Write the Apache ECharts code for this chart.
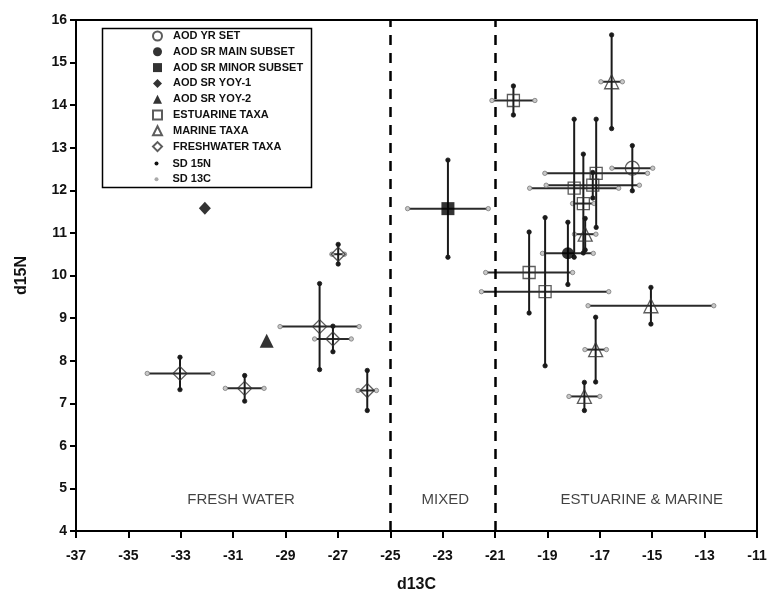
<!DOCTYPE html>
<html>
<head>
<meta charset="utf-8">
<script src="https://cdn.jsdelivr.net/npm/echarts/dist/echarts.min.js"></script>
<style>
  html, body { margin: 0; padding: 0; background: #fff; }
  #chart { width: 780px; height: 595px; }
</style>
</head>
<body>
<div id="chart"></div>
<script>
// each row: [d13C, d15N, SD 13C, SD 15N]
var aodYrSet = [[-15.76, 12.52, 0.78, 0.53]];
var aodSrMain = [[-18.22, 10.52, 0.97, 0.73]];
var aodSrMinor = [[-22.80, 11.57, 1.54, 1.14]];
var aodSrYoy1 = [[-32.08, 11.58]];
var aodSrYoy2 = [[-29.72, 8.47]];
var estuarine = [
    [-20.30, 14.11, 0.82, 0.34],
    [-17.14, 12.40, 1.96, 1.27],
    [-17.98, 12.05, 1.70, 1.62],
    [-17.27, 12.12, 1.78, 0.30],
    [-17.63, 11.69, 0.41, 1.16],
    [-19.70, 10.07, 1.66, 0.95],
    [-19.09, 9.62, 2.43, 1.74]
];
var marine = [
    [-16.55, 14.55, 0.41, 1.10],
    [-17.56, 10.97, 0.41, 0.37],
    [-15.05, 9.29, 2.40, 0.43],
    [-17.16, 8.26, 0.41, 0.76],
    [-17.59, 7.16, 0.59, 0.33]
];
var freshwater = [
    [-33.03, 7.70, 1.25, 0.38],
    [-30.56, 7.35, 0.74, 0.30],
    [-27.70, 8.80, 1.51, 1.01],
    [-27.19, 8.51, 0.70, 0.30],
    [-26.99, 10.50, 0.24, 0.23],
    [-25.88, 7.30, 0.35, 0.47]
];
var zoneBounds = [-25, -21];
var zoneNames = ["FRESH WATER", "MIXED", "ESTUARINE & MARINE"];
var zoneX = [-30.7, -22.9, -15.4];
var zoneY = 4.72;

var font = "Liberation Sans, Arial, Helvetica, sans-serif";
var errorRows = [].concat(aodYrSet, aodSrMain, aodSrMinor, estuarine, marine, freshwater);

function dot(p, fill, stroke) {
    return { type: "circle", shape: { cx: p[0], cy: p[1], r: 2.2 },
        style: { fill: fill, stroke: stroke, lineWidth: 0.8 } };
}

function sd15N(params, api) {
    var x = api.value(0), y = api.value(1), s = api.value(3);
    var a = api.coord([x, y + s]), b = api.coord([x, y - s]);
    return { type: "group", children: [
        { type: "line", shape: { x1: a[0], y1: a[1], x2: b[0], y2: b[1] },
          style: { stroke: "#1a1a1a", lineWidth: 2 } },
        dot(a, "#1a1a1a", "#1a1a1a"), dot(b, "#1a1a1a", "#1a1a1a")
    ] };
}

function sd13C(params, api) {
    var x = api.value(0), y = api.value(1), s = api.value(2);
    var a = api.coord([x - s, y]), b = api.coord([x + s, y]);
    return { type: "group", children: [
        { type: "line", shape: { x1: a[0], y1: a[1], x2: b[0], y2: b[1] },
          style: { stroke: "#2a2a2a", lineWidth: 2 } },
        dot(a, "#c8c8c8", "#7a7a7a"), dot(b, "#c8c8c8", "#7a7a7a")
    ] };
}

var openStyle = { color: "rgba(255,255,255,0)", borderColor: "#333", borderWidth: 1.3 };
var fillStyle = { color: "#000" };

function points(name, data, symbol, size, style) {
    return { name: name, type: "scatter", data: data, symbol: symbol, symbolSize: size,
        itemStyle: style, z: 4, encode: { x: 0, y: 1 } };
}

var legendText = { fontSize: 11, fontWeight: "bold", color: "#111", lineHeight: 12, fontFamily: font };

var chart = echarts.init(document.getElementById("chart"));
chart.setOption({
    animation: false,
    backgroundColor: "#fff",
    textStyle: { fontFamily: font },
    grid: { left: 76, right: 23, top: 20, bottom: 64, show: true, borderColor: "#000", borderWidth: 2,
            containLabel: false, outerBoundsMode: "none" },
    xAxis: {
        type: "value", min: -37, max: -11, interval: 2,
        name: "d13C", nameLocation: "middle", nameGap: 46,
        nameTextStyle: { fontSize: 16, fontWeight: "bold", color: "#111", fontFamily: font },
        axisLine: { lineStyle: { color: "#000", width: 2 } },
        axisTick: { length: 7, lineStyle: { color: "#000", width: 2 } },
        axisLabel: { margin: 18, fontSize: 14, fontWeight: "bold", color: "#111", fontFamily: font },
        splitLine: { show: false }
    },
    yAxis: {
        type: "value", min: 4, max: 16, interval: 1,
        name: "d15N", nameLocation: "middle", nameGap: 46,
        nameTextStyle: { fontSize: 16, fontWeight: "bold", color: "#111", fontFamily: font },
        axisLine: { lineStyle: { color: "#000", width: 2 } },
        axisTick: { length: 6, lineStyle: { color: "#000", width: 2 } },
        axisLabel: { margin: 9, fontSize: 14, fontWeight: "bold", color: "#111", fontFamily: font },
        splitLine: { show: false }
    },
    legend: [{
        orient: "vertical", left: 152, top: 30, padding: 0,
        itemWidth: 9, itemHeight: 9, itemGap: 3.8,
        textStyle: Object.assign({ padding: [0, 0, 0, 6] }, legendText),
        data: ["AOD YR SET", "AOD SR MAIN SUBSET", "AOD SR MINOR SUBSET", "AOD SR YOY-1",
               "AOD SR YOY-2", "ESTUARINE TAXA", "MARINE TAXA", "FRESHWATER TAXA"]
    }, {
        orient: "vertical", left: 154.5, top: 157.5, padding: 0,
        itemWidth: 4, itemHeight: 4, itemGap: 3.8,
        textStyle: Object.assign({ padding: [0, 0, 0, 9] }, legendText),
        data: [
            { name: "SD 15N", icon: "circle", itemStyle: { color: "#111" } },
            { name: "SD 13C", icon: "circle", itemStyle: { color: "#aaa" } }
        ]
    }],
    graphic: [{
        type: "rect", left: 100, top: 26, z: 10, silent: true,
        shape: { width: 209, height: 159 },
        style: { fill: "none", stroke: "#000", lineWidth: 1.5 }
    }],
    series: [
        { name: "SD 13C", type: "custom", renderItem: sd13C, data: errorRows, z: 2,
          encode: { x: 0, y: 1 }, itemStyle: { color: "#aaa" } },
        { name: "SD 15N", type: "custom", renderItem: sd15N, data: errorRows, z: 3,
          encode: { x: 0, y: 1 }, itemStyle: { color: "#111" } },
        points("AOD YR SET", aodYrSet, "circle", 14, openStyle),
        points("AOD SR MAIN SUBSET", aodSrMain, "circle", 12, fillStyle),
        points("AOD SR MINOR SUBSET", aodSrMinor, "rect", 13, fillStyle),
        points("AOD SR YOY-1", aodSrYoy1, "diamond", [12, 13], fillStyle),
        points("AOD SR YOY-2", aodSrYoy2, "triangle", 14, fillStyle),
        points("ESTUARINE TAXA", estuarine, "rect", 12, openStyle),
        points("MARINE TAXA", marine, "triangle", 14, openStyle),
        points("FRESHWATER TAXA", freshwater, "diamond", 14, openStyle),
        {
            name: "zones", type: "scatter", symbolSize: 0, silent: true,
            data: zoneNames.map(function (n, i) { return { name: n, value: [zoneX[i], zoneY] }; }),
            label: { show: true, position: "inside", formatter: "{b}", fontSize: 15,
                     color: "#111", fontFamily: font },
            markLine: {
                silent: true, symbol: "none", label: { show: false },
                lineStyle: { color: "#000", width: 2.5, type: [10, 8] },
                data: zoneBounds.map(function (v) { return { xAxis: v }; })
            }
        }
    ]
});
</script>
</body>
</html>
